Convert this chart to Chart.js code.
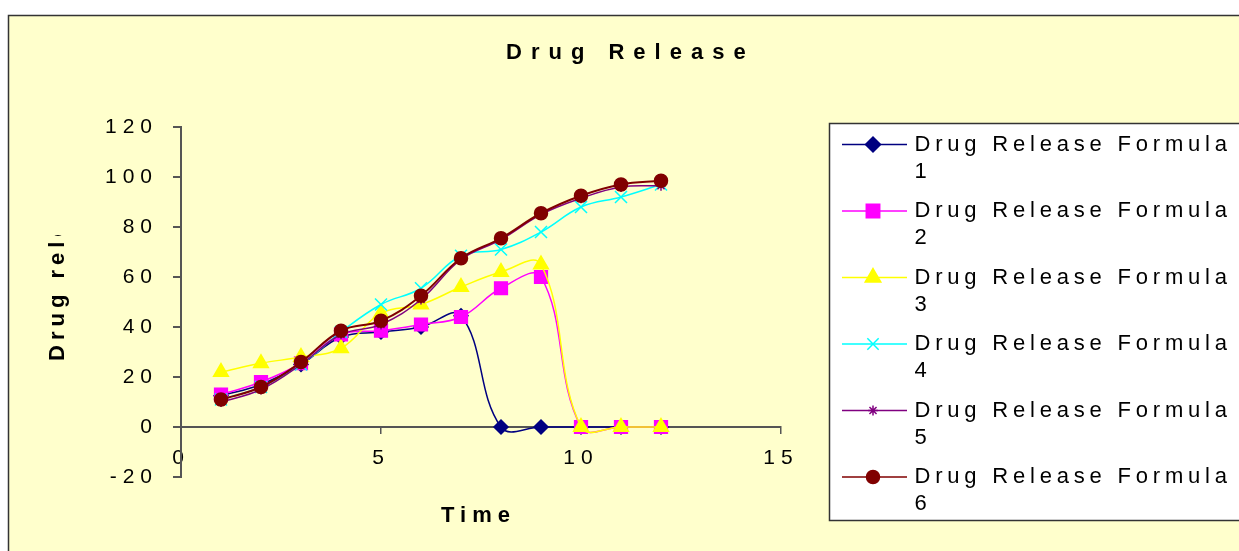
<!DOCTYPE html>
<html>
<head>
<meta charset="utf-8">
<script src="https://cdn.jsdelivr.net/npm/chart.js@4/dist/chart.umd.min.js"></script>
<style>
  html, body { margin: 0; padding: 0; background: #fff; }
  #wrap { width: 1239px; height: 551px; position: relative; }
</style>
</head>
<body>
<div id="wrap"><canvas id="releaseChart"></canvas></div>
<script>
// time points (x) and the six release series
const timePoints = [1, 2, 3, 4, 5, 6, 7, 8, 9, 10, 11, 12];
const formula1 = [12.5, 17, 25, 36, 38, 40, 44.5, 0, 0, 0, 0, 0];
const formula2 = [13, 18, 25.5, 37, 38.5, 41, 44, 55.5, 60, 0, 0, 0];
const formula3 = [22, 25.5, 28, 31.5, 45.5, 49, 56, 62, 65, 0, 0, 0];
const formula4 = [11, 16, 25, 38, 49, 55.5, 68.5, 71, 78, 88, 92, 97];
const formula5 = [10, 15, 25, 37, 41, 51, 67, 75, 85, 91.5, 96, 96.5];
const formula6 = [11, 16, 26, 38.5, 42.5, 52.5, 67.5, 75.5, 85.5, 92.5, 97, 98.5];

const seriesNames = [
  "Drug Release Formula 1",
  "Drug Release Formula 2",
  "Drug Release Formula 3",
  "Drug Release Formula 4",
  "Drug Release Formula 5",
  "Drug Release Formula 6"
];
const seriesValues = [formula1, formula2, formula3, formula4, formula5, formula6];

const xTicks = [0, 5, 10, 15];
const yTicks = [-20, 0, 20, 40, 60, 80, 100, 120];

// styles
const seriesColors = ["#000080", "#FF00FF", "#FFFF00", "#00FFFF", "#800080", "#800000"];
const markerStyles = ["rectRot", "rect", "triangle", "crossRot", "star", "circle"];
const markerRadii = [7, 9, 8.5, 8.5, 5, 6.5];
const legendRadii = [7.5, 9.5, 9, 8, 5, 6.5];
const lineWidths = [1.5, 1.5, 1.5, 1.5, 1.5, 2];

const tickFont = { family: '"Liberation Sans", Arial, sans-serif', size: 21 };

const framePlugin = {
  id: "frame",
  beforeLayout(chart) {
    chart.ctx.letterSpacing = "6px";
  },
  beforeDraw(chart) {
    const ctx = chart.ctx;
    ctx.save();
    ctx.fillStyle = "#ffffff";
    ctx.fillRect(0, 0, chart.width, chart.height);
    ctx.fillStyle = "#FFFFCC";
    ctx.fillRect(8, 15, chart.width, chart.height);
    ctx.strokeStyle = "#333333";
    ctx.lineWidth = 1.5;
    ctx.strokeRect(8.5, 15.5, chart.width + 20, chart.height + 20);
    ctx.restore();
    ctx.letterSpacing = "6px";
  },
  afterDraw(chart) {
    const ctx = chart.ctx;
    ctx.save();
    ctx.fillStyle = "#000";
    ctx.textAlign = "left";
    ctx.textBaseline = "alphabetic";
    ctx.font = 'bold 22px "Liberation Sans", Arial, sans-serif';

    // chart title
    ctx.letterSpacing = "9px";
    ctx.fillText("Drug Release", 506, 59);

    // x axis title
    ctx.letterSpacing = "6px";
    ctx.fillText("Time", 441, 522);

    // y axis title, cut off at the top like the original
    ctx.save();
    ctx.beginPath();
    ctx.rect(0, 235, 100, 200);
    ctx.clip();
    ctx.translate(64, 361);
    ctx.rotate(-Math.PI / 2);
    ctx.letterSpacing = "5px";
    ctx.fillText("Drug release", 0, 0);
    ctx.restore();

    // legend box
    ctx.fillStyle = "#ffffff";
    ctx.fillRect(829, 123, 430, 397);
    ctx.strokeStyle = "#333333";
    ctx.lineWidth = 1.5;
    ctx.strokeRect(829.5, 123.5, 430, 397);

    chart.data.datasets.forEach((ds, i) => {
      const y = 144.5 + i * 66.5;
      ctx.strokeStyle = ds.borderColor;
      ctx.lineWidth = 1.5;
      ctx.beginPath();
      ctx.moveTo(842, y);
      ctx.lineTo(907, y);
      ctx.stroke();

      ctx.fillStyle = ds.backgroundColor;
      Chart.helpers.drawPoint(ctx, {
        pointStyle: ds.pointStyle,
        radius: legendRadii[i],
        rotation: 0,
        borderWidth: 1.5
      }, 873, y);

      const words = ds.label.split(" ");
      const num = words.pop();
      ctx.fillStyle = "#000";
      ctx.font = '22px "Liberation Sans", Arial, sans-serif';
      ctx.letterSpacing = "4.8px";
      ctx.fillText(words.join(" "), 914.5, y + 6);
      ctx.fillText(num, 914.5, y + 33);
    });
    ctx.restore();
    ctx.letterSpacing = "6px";
  }
};

document.addEventListener("DOMContentLoaded", function () {
  const canvas = document.getElementById("releaseChart");

  const datasets = seriesNames.map((name, i) => ({
    label: name,
    data: timePoints.map((t, j) => ({ x: t, y: seriesValues[i][j] })),
    borderColor: seriesColors[i],
    backgroundColor: seriesColors[i],
    pointStyle: markerStyles[i],
    pointRadius: markerRadii[i],
    pointBorderWidth: 1.5,
    borderWidth: lineWidths[i],
    tension: 0.4,
    fill: false,
    order: seriesNames.length - i
  }));

  new Chart(canvas, {
    type: "line",
    data: { datasets: datasets },
    options: {
      responsive: true,
      maintainAspectRatio: false,
      animation: false,
      layout: { padding: { left: 81, top: 127, right: 458, bottom: 74 } },
      plugins: {
        legend: { display: false },
        title: { display: false },
        tooltip: { enabled: false }
      },
      scales: {
        x: {
          type: "linear",
          position: { y: 0 },
          min: 0,
          max: 15,
          afterBuildTicks: (scale) => {
            scale.ticks = xTicks.map((v) => ({ value: v }));
          },
          grid: { drawOnChartArea: false, drawTicks: true, tickLength: 6, color: "#555", lineWidth: 1.5 },
          border: { display: true, color: "#555", width: 2 },
          ticks: { color: "#000", font: tickFont, padding: 13, maxRotation: 0, autoSkip: false }
        },
        y: {
          type: "linear",
          position: "left",
          min: -20,
          max: 120,
          afterBuildTicks: (scale) => {
            scale.ticks = yTicks.map((v) => ({ value: v }));
          },
          afterFit: (scale) => {
            scale.width = 100;
          },
          grid: { drawOnChartArea: false, drawTicks: true, tickLength: 8, color: "#555", lineWidth: 2 },
          border: { display: true, color: "#555", width: 2 },
          ticks: { color: "#000", font: tickFont, padding: 15 }
        }
      }
    },
    plugins: [framePlugin]
  });
});
</script>
</body>
</html>
